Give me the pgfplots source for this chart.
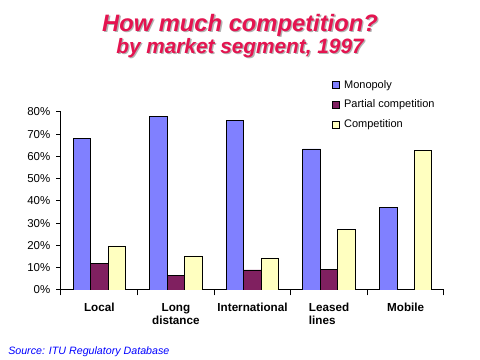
\documentclass[border=0pt]{standalone}
\usepackage{pgfplots}
\pgfplotsset{compat=1.18}
\usepackage{fontspec}
\setmainfont{Liberation Sans}
\definecolor{mono}{HTML}{8080FF}
\definecolor{part}{HTML}{802060}
\definecolor{comp}{HTML}{FFFFC0}
\definecolor{titred}{RGB}{228,20,80}
\begin{document}
\begin{tikzpicture}
\path[fill=white] (0,0) rectangle (360pt,270pt);
% titles
\node[anchor=base,font=\bfseries\itshape\fontsize{17.8pt}{20pt}\selectfont,text=black!30] at (181pt,245.5pt) {How much competition?};
\node[anchor=base,font=\bfseries\itshape\fontsize{17.8pt}{20pt}\selectfont,text=titred] at (180pt,246.5pt) {How much competition?};
\node[anchor=base,font=\bfseries\itshape\fontsize{15.6pt}{18pt}\selectfont,text=black!30] at (181pt,229pt) {by market segment, 1997};
\node[anchor=base,font=\bfseries\itshape\fontsize{15.6pt}{18pt}\selectfont,text=titred] at (180pt,230pt) {by market segment, 1997};
\node[anchor=base west,inner sep=0pt,font=\itshape\fontsize{8pt}{9pt}\selectfont,text=blue] at (6pt,4pt) {Source: ITU Regulatory Database};
\begin{axis}[
  at={(45.75pt,52.5pt)}, anchor=south west,
  scale only axis, width=287.25pt, height=133.5pt,
  ybar=0pt, bar width=13.1pt,
  xmin=-0.5, xmax=4.5, ymin=0, ymax=80,
  axis x line*=bottom, axis y line*=left,
  axis line style={line width=0.75pt,-},
  xtick={0,1,2,3,4},
  xticklabels={Local,{Long\\distance},International,{Leased\\lines\phantom{ed}},Mobile},
  major x tick style={draw=none},
  minor xtick={-0.5,0.5,1.5,2.5,3.5,4.5},
  minor tick length=4pt,
  tick align=outside,
  ytick={0,10,...,80},
  major tick length=3.5pt,
  tick style={black,line width=0.75pt},
  yticklabel={\pgfmathprintnumber{\tick}\%},
  /pgf/number format/assume math mode=true,
  yticklabel style={font=\fontsize{8.6pt}{10pt}\selectfont,xshift=-1pt},
  xticklabel style={font=\bfseries\fontsize{8.75pt}{9.5pt}\selectfont,align=center,yshift=-3pt,anchor=north},
  legend style={draw=none,fill=none,at={(0.707,1.195)},anchor=north west,
    font=\fontsize{8.25pt}{10pt}\selectfont,row sep=3.3pt,inner sep=0pt,
    /tikz/every odd column/.append style={column sep=1.2pt}},
  legend cell align=left,
  legend image code/.code={\draw[#1,draw=black,line width=0.6pt] (0pt,-2.6pt) rectangle (5.25pt,2.6pt);},
]
\addplot[fill=mono,draw=black,line width=0.6pt] coordinates {(0,68.3) (1,78.2) (2,76.0) (3,63.4) (4,36.9)};
\addplot[fill=part,draw=black,line width=0.6pt] coordinates {(0,12.1) (1,6.7) (2,9.0) (3,9.4)};
\addplot[fill=comp,draw=black,line width=0.6pt] coordinates {(0,19.8) (1,15.3) (2,14.4) (3,27.4) (4,62.9)};
\legend{Monopoly,Partial competition,Competition}
\end{axis}
\end{tikzpicture}
\end{document}
